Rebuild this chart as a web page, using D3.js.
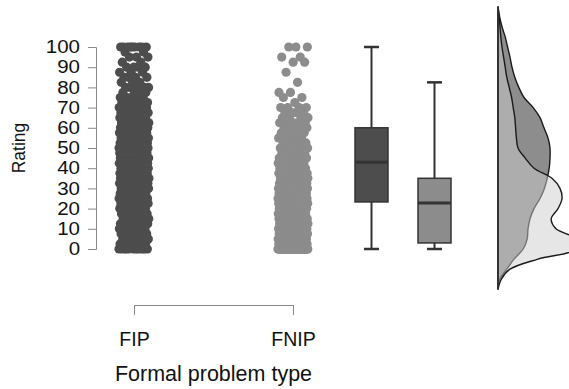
<!DOCTYPE html>
<html>
<head>
<meta charset="utf-8">
<script src="https://cdn.jsdelivr.net/npm/d3@7"></script>
<style>
  body { margin: 0; background: #fff; }
  svg { display: block; font-family: "Liberation Sans", Arial, sans-serif; }
</style>
</head>
<body>
<svg></svg>
<script>
// categories and axis labels
var groups = ["FIP", "FNIP"];
var yTicks = [0, 10, 20, 30, 40, 50, 60, 70, 80, 90, 100];

// rating levels used for the jittered dots, and the number of answers at each level
var levels = [0, 2.5, 5, 7.5, 10, 12.5, 15, 17.5, 20, 22.5, 25, 27.5, 30, 32.5, 35, 37.5, 40,
  42.5, 45, 47.5, 50, 52.5, 55, 57.5, 60, 62.5, 65, 67.5, 70, 72.5, 75, 77.5, 80, 82.5, 85,
  87.5, 90, 92.5, 95, 97.5, 100];
var fipCounts = [12, 6, 8, 7, 9, 7, 9, 8, 10, 10, 12, 11, 13, 12, 14, 13, 14, 14, 15, 14, 16,
  13, 14, 12, 13, 11, 11, 9, 9, 6, 6, 4, 5, 3, 4, 3, 4, 2, 3, 2, 9];
var fnipCounts = [60, 20, 22, 18, 16, 15, 15, 16, 17, 18, 18, 17, 17, 16, 15, 12, 10, 8, 7, 6, 6,
  5, 5, 5, 5, 5, 4, 4, 4, 1, 2, 2, 0, 1, 0, 1, 0, 2, 2, 0, 3];

// box plot statistics: lower whisker, q1, median, q3, upper whisker
var fipBox = [0, 23.3, 43, 60, 100];
var fnipBox = [0, 3, 22.8, 35, 82.5];

// density estimates (x 1000) on a rating grid
var densityRatings = [-20, -15, -10, -5, 0, 5, 10, 15, 20, 25, 30, 35, 40, 45, 50, 55, 60, 65,
  70, 75, 80, 85, 90, 95, 100, 105, 110, 115, 120];
var fipDensity = [0, 0.4, 2.2, 4.0, 6.3, 7.3, 7.5, 8.0, 9.0, 10.5, 11.6, 12.3, 12.8, 13.0, 13.0,
  12.5, 11.5, 10.5, 8.8, 6.5, 5.2, 4.2, 3.5, 3.0, 2.4, 1.8, 1.0, 0.4, 0];
var fnipDensity = [0, 0.8, 3.0, 10.0, 19.5, 19.5, 14.5, 13.3, 15.0, 16.0, 15.5, 13.5, 9.0, 6.8,
  5.0, 4.6, 4.4, 4.2, 3.8, 3.4, 2.8, 2.2, 1.8, 1.4, 1.0, 0.7, 0.5, 0.25, 0];

var width = 569,
    height = 389,
    textColor = "#111",
    dotColor = {FIP: "#4d4d4d", FNIP: "#8c8c8c"};

var svg = d3.select("svg")
    .attr("width", width)
    .attr("height", height);

var y = d3.scaleLinear().domain([0, 100]).range([249, 47]);
var x = d3.scalePoint().domain(groups).range([134, 293]);
var xBox = d3.scalePoint().domain(groups).range([371.5, 434.5]);
var densX = d3.scaleLinear().domain([0, 20]).range([498, 578]);

// y axis
var yAxis = svg.append("g")
    .attr("transform", "translate(96,0)")
    .call(d3.axisLeft(y).tickValues(yTicks).tickSize(8).tickPadding(8));
yAxis.select(".domain").attr("stroke", "#8a8a8a");
yAxis.selectAll(".tick line").attr("stroke", "#8a8a8a");
yAxis.selectAll(".tick text")
    .attr("fill", textColor)
    .style("font-size", "17.5px")
    .style("font-family", "Liberation Sans, Arial, sans-serif")
    .each(function() {
      // labels in the original are wide for their height: stretch them a bit
      var w = this.getComputedTextLength();
      d3.select(this).attr("textLength", w * 1.17).attr("lengthAdjust", "spacingAndGlyphs");
    });

svg.append("text")
    .attr("transform", "translate(25,148) rotate(-90)")
    .attr("text-anchor", "middle")
    .attr("fill", textColor)
    .style("font-size", "17.5px")
    .text("Rating");

// x axis (bracket under the two dot columns)
var xAxis = svg.append("g")
    .attr("transform", "translate(0,305)")
    .call(d3.axisBottom(x).tickSize(10).tickSizeOuter(0).tickPadding(17));
xAxis.select(".domain").attr("stroke", "#8a8a8a");
xAxis.selectAll(".tick line").attr("stroke", "#8a8a8a");
xAxis.selectAll(".tick text")
    .attr("fill", textColor)
    .style("font-size", "19.5px")
    .style("font-family", "Liberation Sans, Arial, sans-serif");

svg.append("text")
    .attr("x", (x("FIP") + x("FNIP")) / 2)
    .attr("y", 381)
    .attr("text-anchor", "middle")
    .attr("fill", textColor)
    .style("font-size", "21.5px")
    .text("Formal problem type");

// jittered dots
var phi = 0.6180339887,
    points = [];
[["FIP", fipCounts], ["FNIP", fnipCounts]].forEach(function(g) {
  var k = 0;
  levels.forEach(function(r, j) {
    for (var c = 0; c < g[1][j]; c++) {
      points.push({group: g[0], rating: r, dx: ((k * phi) % 1 - 0.5) * 30});
      k++;
    }
  });
});

svg.append("g").selectAll("circle")
    .data(points)
  .enter().append("circle")
    .attr("cx", function(d) { return x(d.group) + d.dx; })
    .attr("cy", function(d) { return y(d.rating); })
    .attr("r", 4.6)
    .attr("fill", function(d) { return dotColor[d.group]; });

// box plots
var boxes = [{group: "FIP", s: fipBox}, {group: "FNIP", s: fnipBox}];
var bw = 33, cw = 15;
var box = svg.append("g").selectAll("g")
    .data(boxes)
  .enter().append("g")
    .attr("stroke", "#333")
    .attr("transform", function(d) { return "translate(" + xBox(d.group) + ",0)"; });

box.append("line")
    .attr("y1", function(d) { return y(d.s[0]); })
    .attr("y2", function(d) { return y(d.s[4]); })
    .attr("stroke-width", 2);
box.selectAll(".cap")
    .data(function(d) { return [d.s[0], d.s[4]]; })
  .enter().append("line")
    .attr("class", "cap")
    .attr("x1", -cw / 2).attr("x2", cw / 2)
    .attr("y1", function(v) { return y(v); })
    .attr("y2", function(v) { return y(v); })
    .attr("stroke-width", 2.5);
box.append("rect")
    .attr("x", -bw / 2)
    .attr("width", bw)
    .attr("y", function(d) { return y(d.s[3]); })
    .attr("height", function(d) { return y(d.s[1]) - y(d.s[3]); })
    .attr("fill", function(d) { return dotColor[d.group]; })
    .attr("stroke-width", 1.5);
box.append("line")
    .attr("x1", -bw / 2).attr("x2", bw / 2)
    .attr("y1", function(d) { return y(d.s[2]); })
    .attr("y2", function(d) { return y(d.s[2]); })
    .attr("stroke-width", 3);

// half violins
var area = d3.area()
    .curve(d3.curveCatmullRom)
    .y(function(d) { return y(d[0]); })
    .x0(densX(0))
    .x1(function(d) { return densX(d[1]); });

svg.append("path")
    .datum(d3.zip(densityRatings, fipDensity))
    .attr("d", area)
    .attr("fill", "#1c1c1c")
    .attr("fill-opacity", 0.5)
    .attr("stroke", "#1a1a1a")
    .attr("stroke-width", 1.4);

svg.append("path")
    .datum(d3.zip(densityRatings, fnipDensity))
    .attr("d", area)
    .attr("fill", "#cdcdcd")
    .attr("fill-opacity", 0.5)
    .attr("stroke", "#1a1a1a")
    .attr("stroke-width", 1.4);

svg.append("line")
    .attr("x1", densX(0)).attr("x2", densX(0))
    .attr("y1", y(120)).attr("y2", y(-20))
    .attr("stroke", "#333")
    .attr("stroke-width", 1.5);
</script>
</body>
</html>
